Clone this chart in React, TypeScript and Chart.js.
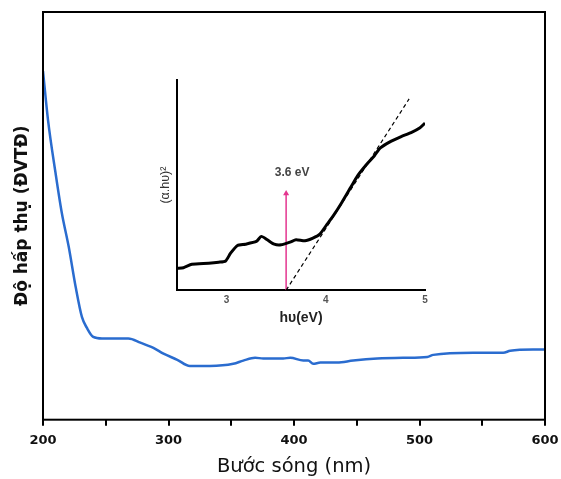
import { useEffect, useRef } from 'react';
import { Chart, registerables } from 'chart.js';
Chart.register(...registerables);

// Main spectrum
const wavelengthNm = [200, 204, 210, 215, 220.5, 226, 231, 235, 240, 247, 268, 277.6, 288, 296, 307, 317, 333, 351.6, 359.6, 369, 375.5, 391.4, 397, 407.4, 411.3, 415.3, 421, 434.4, 447.2, 466.3, 487.3, 506.2, 511, 542.8, 566.7, 572.3, 590.5, 600];
const absorbance = [85.5, 73.5, 60.5, 50.7, 42.4, 32.6, 25.2, 22.5, 20.3, 19.9, 19.9, 18.9, 17.6, 16.2, 14.7, 13.2, 13.2, 13.7, 14.5, 15.2, 15.0, 15.0, 15.2, 14.5, 14.5, 13.7, 14.0, 14.0, 14.5, 15.0, 15.2, 15.4, 15.9, 16.4, 16.4, 16.9, 17.2, 17.2];
const xTicksMain = [200, 250, 300, 350, 400, 450, 500, 550, 600];

// Inset Tauc plot
const photonEnergy = [2.5, 2.565, 2.65, 2.82, 2.92, 2.99, 3.04, 3.11, 3.19, 3.30, 3.35, 3.41, 3.48, 3.55, 3.64, 3.70, 3.79, 3.87, 3.94, 4.01, 4.08, 4.16, 4.25, 4.32, 4.40, 4.49, 4.55, 4.66, 4.76, 4.86, 4.95, 5.0];
const taucValue = [10.4, 10.7, 12.3, 12.8, 13.3, 13.9, 17.6, 21.3, 21.9, 23.2, 25.6, 24, 21.9, 21.6, 22.9, 24, 23.5, 24.8, 26.7, 31.2, 35.7, 41.6, 48.8, 54.4, 59.2, 64, 67.7, 70.9, 73.1, 75, 77.3, 79.5];
const tangentX = [3.6, 4.84];
const tangentY = [0, 91];
const arrowX = [3.6, 3.6];
const arrowY = [0, 46];
const bandGapLabel = '3.6 eV';
const bandGapLabelPos = [3.66, 56];
const xTicksInset = [3, 4, 5];

export default function App() {
  const mainRef = useRef<HTMLCanvasElement>(null);
  const insetRef = useRef<HTMLCanvasElement>(null);

  useEffect(() => {
    document.body.style.margin = '0';
    const boxPlugin = {
      id: 'box',
      afterDraw(chart: any) {
        const { ctx, chartArea: a } = chart;
        ctx.save();
        ctx.strokeStyle = '#000';
        ctx.lineWidth = 2;
        ctx.strokeRect(a.left, a.top, a.right - a.left, a.bottom - a.top);
        ctx.restore();
      },
    };
    const main = new Chart(mainRef.current!, {
      type: 'line',
      data: {
        datasets: [{
          data: wavelengthNm.map((x, i) => ({ x, y: absorbance[i] })),
          borderColor: '#2a6ccf',
          borderWidth: 2.5,
          pointRadius: 0,
          cubicInterpolationMode: 'monotone',
        }],
      },
      options: {
        responsive: false,
        animation: false,
        layout: { padding: { left: 12.6, top: 12, right: 16, bottom: 0 } },
        plugins: { legend: { display: false }, tooltip: { enabled: false } },
        scales: {
          x: {
            type: 'linear', min: 200, max: 600,
            afterBuildTicks: (axis: any) => { axis.ticks = xTicksMain.map(v => ({ value: v })); },
            grid: { display: true, drawOnChartArea: false, drawTicks: true, tickLength: 6, color: '#000', lineWidth: 2 },
            border: { display: false },
            ticks: {
              padding: 0,
              color: '#111',
              font: { family: 'DejaVu Sans', size: 13, weight: 'bold', lineHeight: 2.3 },
              callback: (v: any) => (Number(v) % 100 === 0 ? String(v) : ''),
              maxRotation: 0,
              autoSkip: false,
            },
            title: {
              display: true, text: 'Bước sóng (nm)', color: '#111',
              font: { family: 'DejaVu Sans', size: 19.5 },
              padding: { top: 0, bottom: 0 },
            },
          },
          y: {
            min: 0, max: 100,
            grid: { display: false, drawTicks: false },
            border: { display: false },
            ticks: { display: false },
            title: {
              display: true, text: 'Độ hấp thụ (ĐVTĐ)', color: '#111',
              font: { family: 'DejaVu Sans', size: 17, weight: 'bold' },
              padding: { top: 0, bottom: 10 },
            },
          },
        },
      },
      plugins: [boxPlugin],
    } as any);

    const labelPlugin = {
      id: 'gapLabel',
      afterDatasetsDraw(chart: any) {
        const { ctx, scales } = chart;
        const px = scales.x.getPixelForValue(bandGapLabelPos[0]);
        const py = scales.y.getPixelForValue(bandGapLabelPos[1]);
        ctx.save();
        ctx.fillStyle = '#444';
        ctx.font = 'bold 12px "Liberation Sans"';
        ctx.textAlign = 'center';
        ctx.textBaseline = 'middle';
        ctx.fillText(bandGapLabel, px, py);
        ctx.restore();
      },
    };
    const inset = new Chart(insetRef.current!, {
      type: 'line',
      data: {
        datasets: [
          {
            data: photonEnergy.map((x, i) => ({ x, y: taucValue[i] })),
            borderColor: '#000', borderWidth: 3, pointRadius: 0, tension: 0.2,
          },
          {
            data: tangentX.map((x, i) => ({ x, y: tangentY[i] })),
            borderColor: '#000', borderWidth: 1.2, borderDash: [4, 3], pointRadius: 0,
          },
          {
            data: arrowX.map((x, i) => ({ x, y: arrowY[i] })),
            borderColor: '#e4358f', backgroundColor: '#e4358f', borderWidth: 1.5,
            pointRadius: [0, 3.5], pointStyle: 'triangle', pointBorderWidth: 0,
          },
        ],
      },
      options: {
        responsive: false,
        animation: false,
        layout: { padding: { left: 14, top: 10, right: 15, bottom: 3 } },
        plugins: { legend: { display: false }, tooltip: { enabled: false } },
        scales: {
          x: {
            type: 'linear', min: 2.5, max: 5,
            afterBuildTicks: (axis: any) => { axis.ticks = xTicksInset.map(v => ({ value: v })); },
            grid: { display: false, drawTicks: false },
            border: { display: true, color: '#000', width: 2 },
            ticks: { padding: 4, color: '#555', font: { family: 'Liberation Sans', size: 10, weight: 'bold' }, maxRotation: 0 },
            title: {
              display: true, text: 'hυ(eV)', color: '#222',
              font: { family: 'Liberation Sans', size: 14, weight: 'bold' },
              padding: { top: 0, bottom: 0 },
            },
          },
          y: {
            min: 0, max: 100,
            grid: { display: false, drawTicks: false },
            border: { display: true, color: '#000', width: 2 },
            ticks: { display: false },
            title: {
              display: true, text: '(α.hυ)²', color: '#333',
              font: { family: 'Liberation Sans', size: 12.5 },
              padding: { top: 4, bottom: 4 },
            },
          },
        },
      },
      plugins: [labelPlugin],
    } as any);

    return () => { main.destroy(); inset.destroy(); };
  }, []);

  return (
    <div style={{ position: 'fixed', left: 0, top: 0, width: 561, height: 479, background: '#fff' }}>
      <canvas ref={mainRef} width={561} height={479} style={{ position: 'absolute', left: 0, top: 0 }} />
      <canvas ref={insetRef} width={300} height={260} style={{ position: 'absolute', left: 140, top: 70 }} />
    </div>
  );
}
